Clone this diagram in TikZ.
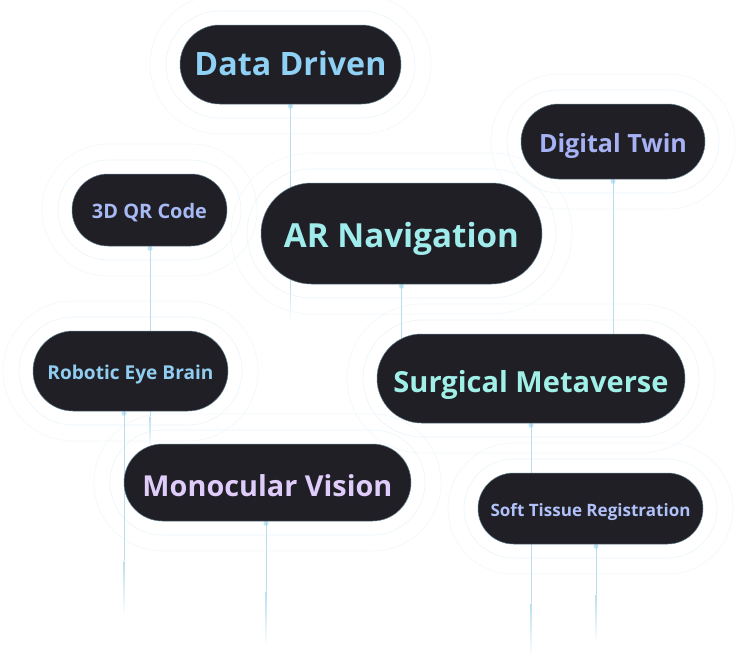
\documentclass[tikz,border=0pt]{standalone}
\usepackage{fontspec}
\usepackage{graphicx}
\setmainfont{Open Sans}
\usetikzlibrary{shapes.misc,calc}
\definecolor{pillfill}{RGB}{32,31,37}
\definecolor{pillrim}{RGB}{95,125,140}
\definecolor{haloc}{RGB}{235,245,250}
\definecolor{halod}{RGB}{241,248,251}
\definecolor{linec}{RGB}{185,222,238}
\definecolor{glowc}{RGB}{150,210,240}
\definecolor{cDD}{RGB}{143,208,245}
\definecolor{cQR}{RGB}{168,186,245}
\definecolor{cAR}{RGB}{160,236,236}
\definecolor{cDT}{RGB}{166,178,245}
\definecolor{cRB}{RGB}{145,205,240}
\definecolor{cSM}{RGB}{160,240,232}
\definecolor{cMV}{RGB}{224,204,250}
\definecolor{cST}{RGB}{176,192,248}
\pgfdeclarelayer{paper}
\pgfdeclarelayer{halo}
\pgfdeclarelayer{bg}
\pgfsetlayers{paper,halo,bg,main}
\tikzset{
  pill/.style={rounded rectangle, fill=pillfill, draw=pillrim, line width=0.5pt, inner sep=0pt},
  haloin/.style={rounded rectangle, draw=haloc, line width=0.6pt, inner sep=0pt},
  haloout/.style={rounded rectangle, draw=halod, line width=0.6pt, inner sep=0pt},
  conn/.style={draw=linec, line width=0.7pt},
  glow/.style={fill=glowc, opacity=0.6},
  label/.style={anchor=base, inner sep=0pt},
}
\newcommand\mkpill[9]{%
  \begin{pgfonlayer}{halo}
    \node[haloout, minimum width=#4+60, minimum height=#5+60] (#1h2) at (#2,#3) {};
    \node[haloin, minimum width=#4+28, minimum height=#5+28] (#1h1) at (#2,#3) {};
  \end{pgfonlayer}
  \node[pill, minimum width=#4, minimum height=#5] (#1) at (#2,#3) {};
  \node[label, text=#6] (#1t) at (#2,#7) {\resizebox{#8pt}{!}{\bfseries #9}};
}
% name, x offset, solid end y, fade end y
\newcommand\mkline[4]{%
  \coordinate (#1s) at ($(#1.south)+(#2,0)$);
  \coordinate (#1e1) at ($(#1s)+(0,#3)$);
  \coordinate (#1e2) at ($(#1s)+(0,#4)$);
  \draw[conn] (#1s) -- (#1e1);
  \shade[top color=linec, bottom color=white] ($(#1e1)+(-0.35,0)$) rectangle ($(#1e2)+(0.35,0)$);
  \fill[glow] ($(#1s)+(0,2)$) circle (2.5pt);
}
\begin{document}
\begin{tikzpicture}[x=1pt,y=-1pt]
\useasboundingbox (0,0) rectangle (738,664);
\begin{pgfonlayer}{paper}
  \fill[white] (0,0) rectangle (738,664);
\end{pgfonlayer}
\mkpill{dd}{290.5}{64.5}{221}{79}{cDD}{75}{192}{Data Driven}
\mkpill{qr}{149.5}{210}{155}{72}{cQR}{218}{115}{3D QR Code}
\mkpill{ar}{401.5}{233.5}{281}{101}{cAR}{247}{235}{AR Navigation}
\mkpill{dt}{613}{141.5}{184}{75}{cDT}{152}{148}{Digital Twin}
\mkpill{rb}{130.5}{371}{195}{80}{cRB}{379}{166}{Robotic Eye Brain}
\mkpill{sm}{531}{378.5}{308}{89}{cSM}{392}{275}{Surgical Metaverse}
\mkpill{mv}{267.5}{482.5}{287}{77}{cMV}{496}{250}{Monocular Vision}
\mkpill{st}{590.5}{508.5}{225}{71}{cST}{516}{200}{Soft Tissue Registration}
\begin{pgfonlayer}{bg}
  \mkline{dd}{0}{180}{218}
  \mkline{qr}{0.5}{170}{204}
  \mkline{rb}{-6.5}{150}{205}
  \mkline{mv}{-1.5}{70}{125}
  \mkline{sm}{0}{180}{235}
  \mkline{st}{5.5}{50}{98}
  \draw[conn] (dt.south) -- (dt.south |- sm.center);
  \fill[glow] ($(dt.south)+(0,2)$) circle (2.5pt);
  \draw[conn] (ar.south) -- (ar.south |- sm.center);
  \fill[glow] ($(ar.south)+(0,2)$) circle (2.5pt);
\end{pgfonlayer}
\end{tikzpicture}
\end{document}
